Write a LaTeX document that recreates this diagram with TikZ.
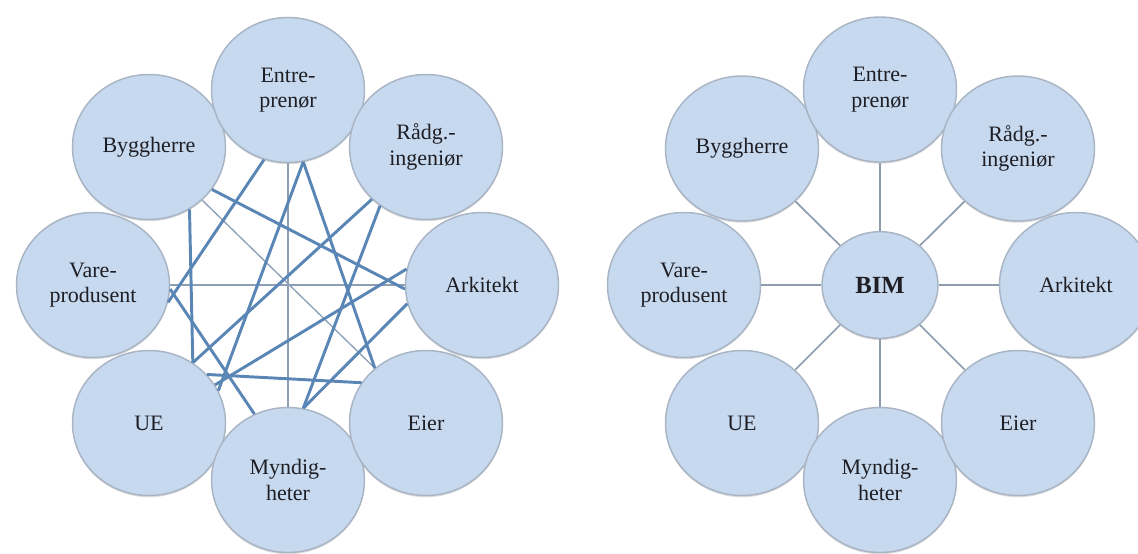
\documentclass[tikz,border=0pt]{standalone}
\usepackage{fontspec}
\setmainfont{Liberation Serif}
\usetikzlibrary{shapes.geometric,shadows}
\definecolor{bubfill}{HTML}{C7D9EF}
\definecolor{bubedge}{HTML}{A9B5C4}
\definecolor{thickln}{HTML}{5A86B6}
\definecolor{thinln}{HTML}{8C9FB5}
\definecolor{spokeln}{HTML}{8E9CAD}
\definecolor{txt}{HTML}{1E1E24}
\begin{document}
\begin{tikzpicture}[x=0.75pt,y=-0.75pt,
  bub/.style={ellipse, draw=bubedge, line width=1.1pt, fill=bubfill,
    minimum width=114.75pt, minimum height=108.75pt, inner sep=0pt,
    align=center, text=txt, font=\fontsize{16.5}{19}\selectfont,
    drop shadow={shadow xshift=0pt, shadow yshift=-1.3pt, opacity=0.3, fill=black!45}},
  hub/.style={bub, minimum width=87pt, minimum height=80pt,
    font=\bfseries\fontsize{18.5}{21}\selectfont},
  thickedge/.style={draw=thickln, line width=2.2pt},
  thinedge/.style={draw=thinln, line width=1pt},
  spokeedge/.style={draw=spokeln, line width=1.3pt}]
\useasboundingbox (0,0) rectangle (1138,553);

% ---------- left diagram ----------
\node[bub] (lB)  at (149,147)   {Byggherre};
\node[bub] (lE)  at (288,90)    {Entre-\\prenør};
\node[bub] (lR)  at (426,147)   {Rådg.-\\ingeniør};
\node[bub] (lV)  at (93,285)    {Vare-\\produsent};
\node[bub] (lA)  at (482,285)   {Arkitekt};
\node[bub] (lU)  at (149,423)   {UE};
\node[bub] (lM)  at (288,480)   {Myndig-\\heter};
\node[bub] (lEi) at (426,423)   {Eier};

% thin connections
\draw[thinedge] (lE.-90) -- (lM.90);
\draw[thinedge] (lV.0) -- (lA.180);
\draw[thinedge] (lB.-45) -- (lEi.133);
% thick connections
\draw[thickedge] (lB.-34) -- (lA.183);
\draw[thickedge] (lB.-57) -- (lU.54);
\draw[thickedge] (lE.-109) -- (lV.-13);
\draw[thickedge] (lE.-78) -- (lU.25);
\draw[thickedge] (lE.-78) -- (lEi.133);
\draw[thickedge] (lR.-136) -- (lU.54);
\draw[thickedge] (lR.-128) -- (lM.78);
\draw[thickedge] (lA.168) -- (lU.30);
\draw[thickedge] (lA.194) -- (lM.78);
\draw[thickedge] (lV.-3) -- (lM.117);
\draw[thickedge] (lU.40) -- (lEi.148);

% ---------- right diagram ----------
\node[bub] (rB)  at (742,148.5) {Byggherre};
\node[bub] (rE)  at (880,89.5)  {Entre-\\prenør};
\node[bub] (rR)  at (1018,148.5){Rådg.-\\ingeniør};
\node[bub] (rV)  at (684,285)   {Vare-\\produsent};
\node[bub] (rA)  at (1076,285)  {Arkitekt};
\node[bub] (rU)  at (742,423)   {UE};
\node[bub] (rM)  at (880,480)   {Myndig-\\heter};
\node[bub] (rEi) at (1018,423)  {Eier};
\node[hub] (bim) at (880,285)   {BIM};

\foreach \n in {rB,rE,rR,rV,rA,rU,rM,rEi}
  \draw[spokeedge] (bim) -- (\n);
\end{tikzpicture}
\end{document}
